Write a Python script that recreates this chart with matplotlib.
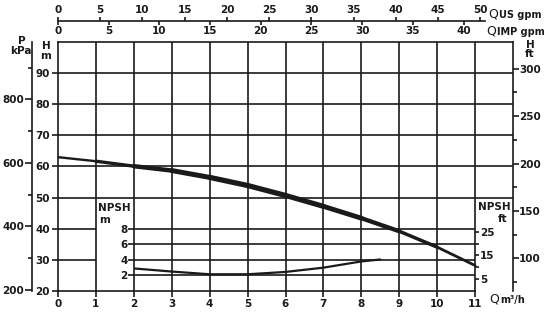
import matplotlib
matplotlib.use("Agg")
import matplotlib.pyplot as plt
from matplotlib.collections import LineCollection
import numpy as np

INK = "#1a1a1a"

# pump head curve (m) against flow (m3/h)
FLOW_M3H = [0, 1, 2, 3, 4, 5, 6, 7, 8, 9, 10, 11]
HEAD_M = [63.0, 61.7, 60.1, 58.7, 56.5, 53.9, 50.7, 47.2, 43.4, 39.2, 34.1, 28.2]

# NPSH curve (m)
NPSH_FLOW = [2, 3, 4, 5, 6, 7, 8, 8.5]
NPSH_M = [2.9, 2.5, 2.15, 2.15, 2.45, 3.0, 3.8, 4.05]

Q_TICKS = [0, 1, 2, 3, 4, 5, 6, 7, 8, 9, 10, 11]
H_TICKS = [20, 30, 40, 50, 60, 70, 80, 90]
P_MAJOR = [200, 400, 600, 800]
P_MINOR = [300, 500, 700, 900]
HFT_MAJOR = [100, 150, 200, 250, 300]
HFT_MINOR = [75, 125, 175, 225, 275]
US_GPM_TICKS = [0, 5, 10, 15, 20, 25, 30, 35, 40, 45, 50]
IMP_GPM_TICKS = [0, 5, 10, 15, 20, 25, 30, 35, 40]
NPSH_M_TICKS = [2, 4, 6, 8]
NPSH_FT_MAJOR = [5, 15, 25]
NPSH_FT_MINOR = [10, 20]

KPA_PER_M = 9.807
FT_PER_M = 3.281
US_GPM_PER_M3H = 4.49
IMP_GPM_PER_M3H = 3.74

W, H = 550, 314
plt.rcParams["font.family"] = "DejaVu Sans"
plt.rcParams["font.weight"] = "bold"
plt.rcParams["axes.linewidth"] = 1.2


def px(x, y):
    return x / W, 1 - y / H


def style_ticks(axis_obj, major=4, minor=3, pad=1):
    axis_obj.tick_params(which="major", direction="out", length=major, width=1.2,
                         color=INK, labelsize=7.5, labelcolor=INK, pad=pad)
    axis_obj.tick_params(which="minor", direction="out", length=minor, width=1.2, color=INK)


fig = plt.figure(figsize=(W / 100, H / 100), dpi=100)
ax = fig.add_axes([58 / W, 23 / H, 455 / W, 249 / H])
ax.set_xlim(0, 12)
ax.set_ylim(20, 100)
for side in ["top", "left", "bottom"]:
    ax.spines[side].set_color(INK)
ax.spines["right"].set_visible(False)
ax.spines["bottom"].set_bounds(0, 11)
ax.set_xticks(Q_TICKS)
ax.set_yticks(H_TICKS)
style_ticks(ax, major=4, pad=2)

# grid
ax.vlines(Q_TICKS[1:], 20, 100, color=INK, lw=1.2)
ax.hlines([h for h in H_TICKS if h >= 50], 0, 12, color=INK, lw=1.2)
ax.hlines([h for h in H_TICKS if 20 < h < 50], 0, 1, color=INK, lw=1.2)

# head curve, drawn thicker in the middle like the printed sheet
points = np.column_stack([FLOW_M3H, HEAD_M])
segments = np.stack([points[:-1], points[1:]], axis=1)
widths = [1.7, 2.4, 3.2, 3.6, 3.8, 3.8, 3.7, 3.5, 3.1, 2.5, 2.0]
ax.add_collection(LineCollection(segments, linewidths=widths, colors=INK,
                                 capstyle="round", joinstyle="round", zorder=4))

# right axis: head in ft
hft = ax.secondary_yaxis("right", functions=(lambda m: m * FT_PER_M, lambda f: f / FT_PER_M))
hft.set_yticks(HFT_MAJOR)
hft.set_yticks(HFT_MINOR, minor=True)
hft.spines["right"].set_color(INK)
style_ticks(hft, major=4, minor=3, pad=0.5)

# left outer axis: pressure in kPa
pax = ax.secondary_yaxis(-26 / 455, functions=(lambda m: m * KPA_PER_M, lambda p: p / KPA_PER_M))
pax.set_yticks(P_MAJOR)
pax.set_yticks(P_MINOR, minor=True)
pax.spines["left"].set_color(INK)
style_ticks(pax, major=5, minor=3, pad=0.5)

# top axes: US and IMP gpm
top_loc = 1 + 21 / 249
us = ax.secondary_xaxis(top_loc, functions=(lambda q: q * US_GPM_PER_M3H,
                                             lambda g: g / US_GPM_PER_M3H))
us.set_xticks(US_GPM_TICKS)
us.spines["top"].set_bounds(0, 50.6)
us.spines["top"].set_color(INK)
style_ticks(us, major=3, pad=1)

imp = ax.secondary_xaxis(top_loc, functions=(lambda q: q * IMP_GPM_PER_M3H,
                                              lambda g: g / IMP_GPM_PER_M3H))
imp.set_alignment("bottom")
imp.set_xticks(IMP_GPM_TICKS)
imp.spines["bottom"].set_visible(False)
style_ticks(imp, major=3, pad=0.5)

# NPSH panel inside the lower grid
npsh = ax.inset_axes([2, 20, 9, 20], transform=ax.transData)
npsh.set_xlim(2, 11)
npsh.set_ylim(0, 8)
npsh.patch.set_visible(False)
for s in npsh.spines.values():
    s.set_visible(False)
npsh.set_xticks([])
npsh.set_yticks(NPSH_M_TICKS)
style_ticks(npsh, major=4, pad=0.5)
npsh.hlines(NPSH_M_TICKS, 2, 11, color=INK, lw=1.2, clip_on=False)
npsh.plot(NPSH_FLOW, NPSH_M, color=INK, lw=1.6, solid_capstyle="round")

nft = npsh.secondary_yaxis("right", functions=(lambda m: m * FT_PER_M, lambda f: f / FT_PER_M))
nft.set_yticks(NPSH_FT_MAJOR)
nft.set_yticks(NPSH_FT_MINOR, minor=True)
nft.spines["right"].set_visible(False)
style_ticks(nft, major=3, minor=3, pad=0.5)

# axis captions
txt = dict(color=INK, fontsize=7.5, ha="center", va="center")
fig.text(*px(22, 41), "P", **txt)
fig.text(*px(21, 51), "kPa", **txt)
fig.text(*px(46, 46), "H", **txt)
fig.text(*px(46, 56), "m", **txt)
fig.text(*px(530, 45), "H", **txt)
fig.text(*px(530, 54), "ft", **txt)
fig.text(*px(114, 208), "NPSH", **txt)
fig.text(*px(105, 220), "m", **txt)
fig.text(*px(494, 207), "NPSH", **txt)
fig.text(*px(503, 219), "ft", **txt)

fig.text(*px(488, 14), "Q", color=INK, fontsize=9, fontweight="normal", ha="left", va="center")
fig.text(*px(499, 15), "US gpm", color=INK, fontsize=7, ha="left", va="center")
fig.text(*px(486, 31), "Q", color=INK, fontsize=9, fontweight="normal", ha="left", va="center")
fig.text(*px(497, 32), "IMP gpm", color=INK, fontsize=7, ha="left", va="center")
fig.text(*px(489, 299), "Q", color=INK, fontsize=9, fontweight="normal", ha="left", va="center")
fig.text(*px(500, 300), "m³/h", color=INK, fontsize=7, ha="left", va="center")

fig.savefig("out.png", dpi=100, facecolor="white")
